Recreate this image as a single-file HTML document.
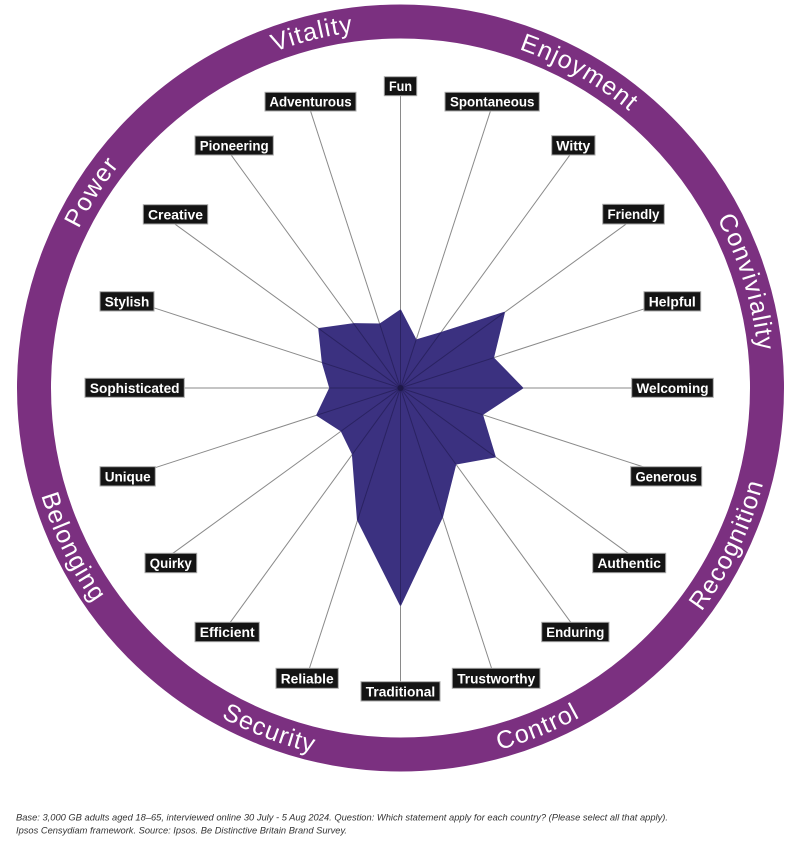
<!DOCTYPE html>
<html>
<head>
<meta charset="utf-8">
<style>
html,body{margin:0;padding:0;background:#fff;}
body{width:800px;height:845px;overflow:hidden;}
svg{display:block;}
.ring{font-family:"Liberation Sans",sans-serif;font-size:25px;fill:#fff;letter-spacing:1.1px;}
.lbl{font-family:"Liberation Sans",sans-serif;font-weight:bold;font-size:14px;fill:#fff;}
.foot{font-family:"Liberation Sans",sans-serif;font-style:italic;font-size:9.5px;fill:#333;}
</style>
</head>
<body>
<svg width="800" height="845" viewBox="0 0 800 845" xmlns="http://www.w3.org/2000/svg">
<defs>
  <path id="pVit" d="M110.1,177.0 A359,359 0 0 1 557.9,65.3"/>
  <path id="pEnj" d="M335.1,35.0 A359,359 0 0 1 736.8,262.3"/>
  <path id="pCon" d="M596.0,86.9 A359,359 0 0 1 731.0,528.3"/>
  <path id="pPow" d="M44.7,435.5 A359,359 0 0 1 291.9,45.8"/>
  <path id="pRec" d="M555.4,729.5 A375,375 0 0 0 763.7,294.7"/>
  <path id="pCtl" d="M284.6,744.7 A375,375 0 0 0 731.6,564.1"/>
  <path id="pSec" d="M72.5,569.8 A375,375 0 0 0 522.6,742.6"/>
  <path id="pBel" d="M36.8,296.6 A375,375 0 0 0 247.4,730.3"/>
  <clipPath id="polyClip">
    <polygon points="400.5,310.3 416.0,340.2 440.5,333.0 504.2,312.6 493.2,357.9 522.5,388 482.2,414.5 495.0,456.7 455.6,463.9 442.3,516.8 400.5,605 357.7,519.8 352.6,453.9 341.4,430.9 317.0,415.1 330.0,388 322.6,362.7 319.0,328.8 353.9,323.9 379.8,324.3"/>
  </clipPath>
</defs>

<!-- ring -->
<circle cx="400.5" cy="388" r="366.5" fill="none" stroke="#7b3080" stroke-width="34"/>

<text class="ring"><textPath href="#pVit" startOffset="50%" text-anchor="middle">Vitality</textPath></text>
<text class="ring"><textPath href="#pEnj" startOffset="50%" text-anchor="middle">Enjoyment</textPath></text>
<text class="ring"><textPath href="#pCon" startOffset="50%" text-anchor="middle">Conviviality</textPath></text>
<text class="ring"><textPath href="#pPow" startOffset="50%" text-anchor="middle">Power</textPath></text>
<text class="ring"><textPath href="#pRec" startOffset="50%" text-anchor="middle">Recognition</textPath></text>
<text class="ring"><textPath href="#pCtl" startOffset="50%" text-anchor="middle">Control</textPath></text>
<text class="ring"><textPath href="#pSec" startOffset="50%" text-anchor="middle">Security</textPath></text>
<text class="ring"><textPath href="#pBel" startOffset="50%" text-anchor="middle">Belonging</textPath></text>

<!-- spokes -->
<g id="spokes" stroke="#8a8a8a" stroke-width="1" fill="none">
  <line x1="400.5" y1="388" x2="400.5" y2="94"/>
  <line x1="400.5" y1="388" x2="491.0" y2="109.3"/>
  <line x1="400.5" y1="388" x2="571.0" y2="153.4"/>
  <line x1="400.5" y1="388" x2="627.8" y2="222.8"/>
  <line x1="400.5" y1="388" x2="645.9" y2="308.3"/>
  <line x1="400.5" y1="388" x2="633.5" y2="388"/>
  <line x1="400.5" y1="388" x2="644.9" y2="467.4"/>
  <line x1="400.5" y1="388" x2="629.5" y2="554.3"/>
  <line x1="400.5" y1="388" x2="572.1" y2="624.2"/>
  <line x1="400.5" y1="388" x2="492.3" y2="670.5"/>
  <line x1="400.5" y1="388" x2="400.5" y2="684"/>
  <line x1="400.5" y1="388" x2="308.7" y2="670.5"/>
  <line x1="400.5" y1="388" x2="228.9" y2="624.2"/>
  <line x1="400.5" y1="388" x2="171.5" y2="554.3"/>
  <line x1="400.5" y1="388" x2="153.2" y2="468.3"/>
  <line x1="400.5" y1="388" x2="182.5" y2="388"/>
  <line x1="400.5" y1="388" x2="152.3" y2="307.3"/>
  <line x1="400.5" y1="388" x2="173.2" y2="222.8"/>
  <line x1="400.5" y1="388" x2="230.0" y2="153.4"/>
  <line x1="400.5" y1="388" x2="310.0" y2="109.3"/>
</g>

<!-- data polygon -->
<polygon points="400.5,310.3 416.0,340.2 440.5,333.0 504.2,312.6 493.2,357.9 522.5,388 482.2,414.5 495.0,456.7 455.6,463.9 442.3,516.8 400.5,605 357.7,519.8 352.6,453.9 341.4,430.9 317.0,415.1 330.0,388 322.6,362.7 319.0,328.8 353.9,323.9 379.8,324.3" fill="#3b3180" stroke="#3b3180" stroke-width="1.5" stroke-linejoin="round"/>

<!-- darker spokes inside polygon -->
<g clip-path="url(#polyClip)" stroke="#241d55" stroke-width="1" opacity="0.7">
  <line x1="400.5" y1="388" x2="400.5" y2="94"/>
  <line x1="400.5" y1="388" x2="491.0" y2="109.3"/>
  <line x1="400.5" y1="388" x2="571.0" y2="153.4"/>
  <line x1="400.5" y1="388" x2="627.8" y2="222.8"/>
  <line x1="400.5" y1="388" x2="645.9" y2="308.3"/>
  <line x1="400.5" y1="388" x2="633.5" y2="388"/>
  <line x1="400.5" y1="388" x2="644.9" y2="467.4"/>
  <line x1="400.5" y1="388" x2="629.5" y2="554.3"/>
  <line x1="400.5" y1="388" x2="572.1" y2="624.2"/>
  <line x1="400.5" y1="388" x2="492.3" y2="670.5"/>
  <line x1="400.5" y1="388" x2="400.5" y2="684"/>
  <line x1="400.5" y1="388" x2="308.7" y2="670.5"/>
  <line x1="400.5" y1="388" x2="228.9" y2="624.2"/>
  <line x1="400.5" y1="388" x2="171.5" y2="554.3"/>
  <line x1="400.5" y1="388" x2="153.2" y2="468.3"/>
  <line x1="400.5" y1="388" x2="182.5" y2="388"/>
  <line x1="400.5" y1="388" x2="152.3" y2="307.3"/>
  <line x1="400.5" y1="388" x2="173.2" y2="222.8"/>
  <line x1="400.5" y1="388" x2="230.0" y2="153.4"/>
  <line x1="400.5" y1="388" x2="310.0" y2="109.3"/>
</g>
<circle cx="400.5" cy="388" r="3" fill="#1e1848"/>

<!-- label boxes -->
<g fill="#141414" stroke="#a8a8a8" stroke-width="1">
  <rect x="384.3" y="76.7" width="32.4" height="19"/>
  <rect x="445" y="92.3" width="94.3" height="18.7"/>
  <rect x="551.7" y="135.7" width="43.3" height="19.3"/>
  <rect x="602.7" y="204.3" width="61.6" height="19.7"/>
  <rect x="644" y="291.7" width="56.7" height="19.3"/>
  <rect x="631.7" y="378.3" width="81.6" height="19"/>
  <rect x="630.7" y="466.7" width="71" height="19.3"/>
  <rect x="592.7" y="553.3" width="73" height="19.4"/>
  <rect x="541.7" y="622.3" width="67.3" height="19.4"/>
  <rect x="452.3" y="668.3" width="87.7" height="20"/>
  <rect x="361" y="681.7" width="79" height="19.3"/>
  <rect x="276" y="668.3" width="62.3" height="20"/>
  <rect x="195" y="622.3" width="64.3" height="19.4"/>
  <rect x="145" y="553.3" width="51.7" height="19.4"/>
  <rect x="100" y="466.7" width="55.3" height="19.3"/>
  <rect x="85" y="378.3" width="99.3" height="19"/>
  <rect x="100" y="291.7" width="54" height="19.3"/>
  <rect x="143.3" y="204.7" width="64.4" height="19.3"/>
  <rect x="195" y="136" width="78.3" height="19"/>
  <rect x="265" y="92.3" width="91" height="18.7"/>
</g>

<g class="lbl" text-anchor="middle">
  <text x="400.5" y="91.2" textLength="23" lengthAdjust="spacingAndGlyphs">Fun</text>
  <text x="492.2" y="106.7" textLength="84.5" lengthAdjust="spacingAndGlyphs">Spontaneous</text>
  <text x="573.3" y="150.3" textLength="34" lengthAdjust="spacingAndGlyphs">Witty</text>
  <text x="633.5" y="219.2" textLength="52" lengthAdjust="spacingAndGlyphs">Friendly</text>
  <text x="672.3" y="306.3" textLength="47" lengthAdjust="spacingAndGlyphs">Helpful</text>
  <text x="672.5" y="392.8" textLength="72" lengthAdjust="spacingAndGlyphs">Welcoming</text>
  <text x="666.2" y="481.3" textLength="61.5" lengthAdjust="spacingAndGlyphs">Generous</text>
  <text x="629.2" y="568" textLength="63.5" lengthAdjust="spacingAndGlyphs">Authentic</text>
  <text x="575.3" y="637" textLength="58" lengthAdjust="spacingAndGlyphs">Enduring</text>
  <text x="496.2" y="683.3" textLength="78" lengthAdjust="spacingAndGlyphs">Trustworthy</text>
  <text x="400.5" y="696.3" textLength="69.5" lengthAdjust="spacingAndGlyphs">Traditional</text>
  <text x="307.2" y="683.3" textLength="53" lengthAdjust="spacingAndGlyphs">Reliable</text>
  <text x="227.2" y="637" textLength="55" lengthAdjust="spacingAndGlyphs">Efficient</text>
  <text x="170.8" y="568" textLength="42" lengthAdjust="spacingAndGlyphs">Quirky</text>
  <text x="127.7" y="481.3" textLength="46" lengthAdjust="spacingAndGlyphs">Unique</text>
  <text x="134.7" y="392.8" textLength="89.7" lengthAdjust="spacingAndGlyphs">Sophisticated</text>
  <text x="127" y="306.3" textLength="44.5" lengthAdjust="spacingAndGlyphs">Stylish</text>
  <text x="175.5" y="219.3" textLength="55" lengthAdjust="spacingAndGlyphs">Creative</text>
  <text x="234.2" y="150.5" textLength="69" lengthAdjust="spacingAndGlyphs">Pioneering</text>
  <text x="310.5" y="106.7" textLength="82.3" lengthAdjust="spacingAndGlyphs">Adventurous</text>
</g>

<!-- footer -->
<text class="foot" x="16" y="820.5" textLength="652" lengthAdjust="spacingAndGlyphs">Base: 3,000 GB adults aged 18–65, interviewed online 30 July - 5 Aug 2024. Question: Which statement apply for each country? (Please select all that apply).</text>
<text class="foot" x="16" y="833.5" textLength="331" lengthAdjust="spacingAndGlyphs">Ipsos Censydiam framework. Source: Ipsos. Be Distinctive Britain Brand Survey.</text>
</svg>
</body>
</html>
